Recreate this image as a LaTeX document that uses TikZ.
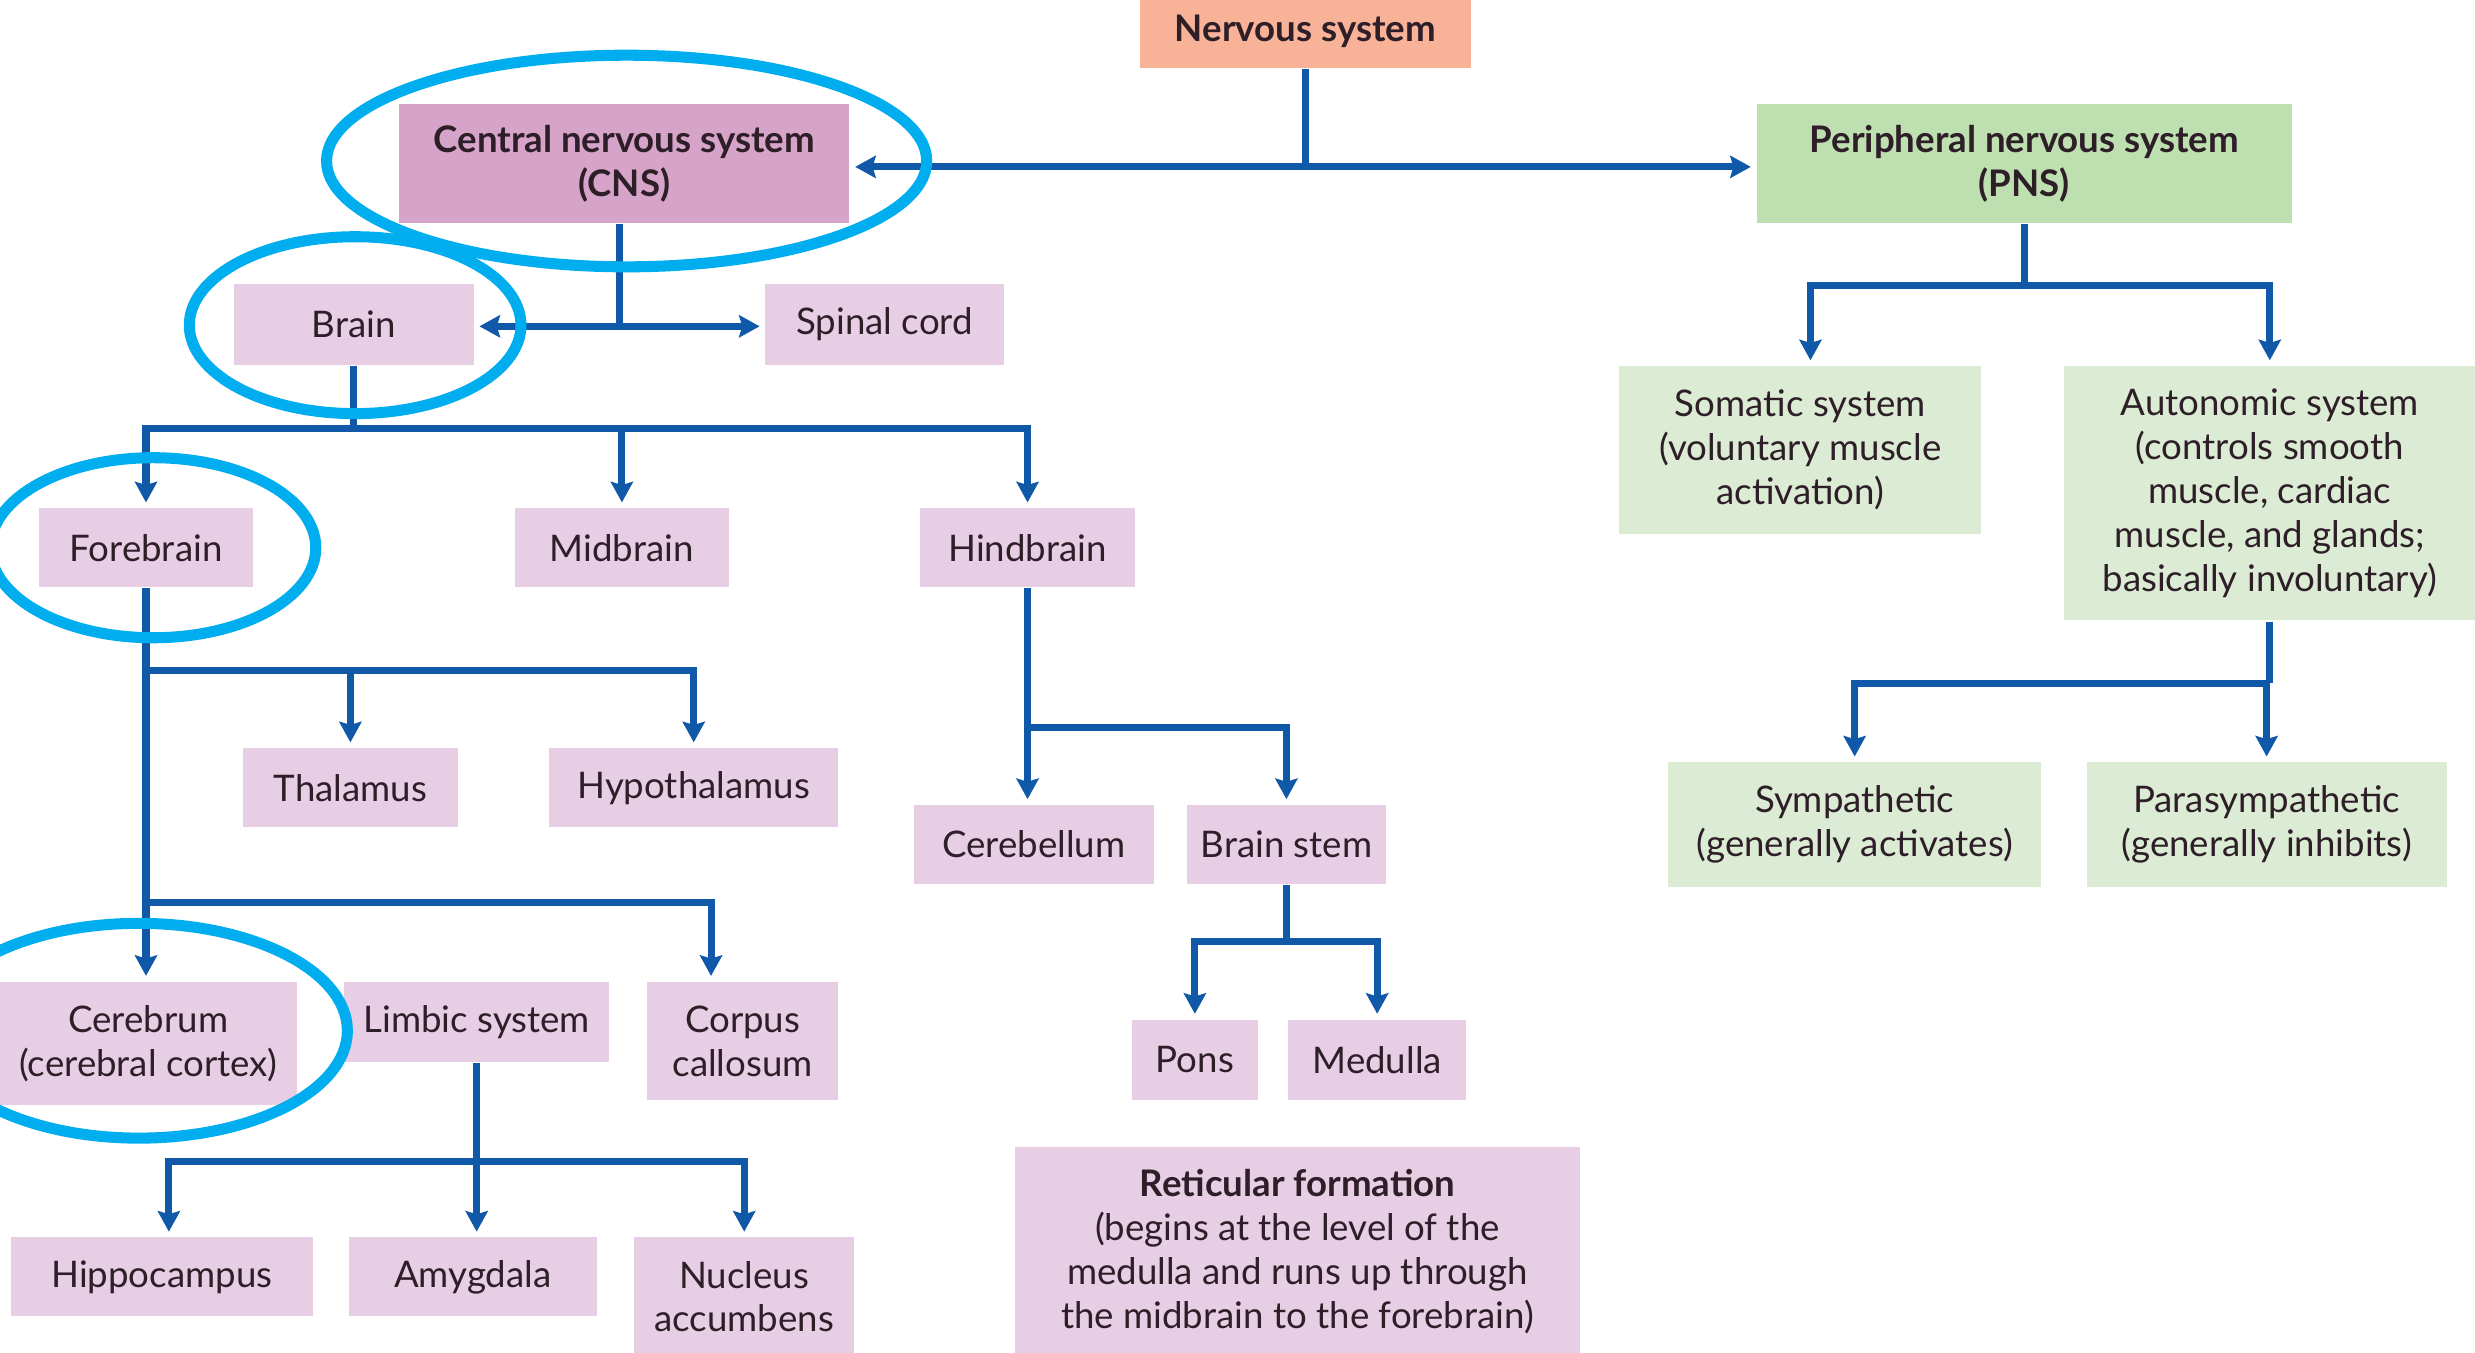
\documentclass[tikz,border=0pt]{standalone}
\usepackage{fontspec}
\setmainfont{Lato}
\usetikzlibrary{arrows.meta}

\definecolor{nsfill}{RGB}{247,178,152}
\definecolor{cnsfill}{RGB}{214,164,200}
\definecolor{pnsfill}{RGB}{190,224,176}
\definecolor{pinkfill}{RGB}{232,206,228}
\definecolor{greenfill}{RGB}{220,236,212}
\definecolor{linkblue}{RGB}{16,88,168}
\definecolor{ringblue}{RGB}{0,174,239}
\definecolor{txt}{RGB}{45,30,40}

\tikzset{
  box/.style={inner sep=0pt,align=center,text=txt,font=\fontsize{6.6}{7.9}\selectfont},
  pinkbox/.style={box,fill=pinkfill},
  greenbox/.style={box,fill=greenfill},
  link/.style={linkblue,line width=0.045cm},
  arr/.style={link,-{Stealth[length=0.13cm,width=0.14cm,inset=0.02cm]},shorten >=0.03cm},
  ring/.style={ringblue,line width=0.07cm}
}

\begin{document}
\begin{tikzpicture}[x=0.01cm,y=-0.01cm]
\useasboundingbox (0,0) rectangle (1568,857);
\fill[white] (0,0) rectangle (1568,857);

% top level
\node[box,fill=nsfill,minimum width=2.10cm,minimum height=0.46cm] (ns) at (827,20) {\bfseries Nervous system};
\node[box,fill=cnsfill,minimum width=2.85cm,minimum height=0.75cm] (cns) at (395.5,103.5) {\bfseries Central nervous system\\\bfseries(CNS)};
\node[box,fill=pnsfill,minimum width=3.39cm,minimum height=0.75cm] (pns) at (1282.5,103.5) {\bfseries Peripheral nervous system\\\bfseries(PNS)};

% central side
\node[pinkbox,minimum width=1.52cm,minimum height=0.51cm] (brain) at (224,205.5) {Brain};
\node[pinkbox,minimum width=1.51cm,minimum height=0.51cm] (spinal) at (560.5,205.5) {Spinal cord};
\node[pinkbox,minimum width=1.35cm,minimum height=0.50cm] (fore) at (92.5,347) {Forebrain};
\node[pinkbox,minimum width=1.36cm,minimum height=0.50cm] (mid) at (394,347) {Midbrain};
\node[pinkbox,minimum width=1.36cm,minimum height=0.50cm] (hind) at (651,347) {Hindbrain};
\node[pinkbox,minimum width=1.36cm,minimum height=0.50cm] (thal) at (222,499) {Thalamus};
\node[pinkbox,minimum width=1.83cm,minimum height=0.50cm] (hypo) at (439.5,499) {Hypothalamus};
\node[pinkbox,minimum width=1.52cm,minimum height=0.50cm] (cbl) at (655,535) {Cerebellum};
\node[pinkbox,minimum width=1.26cm,minimum height=0.50cm] (stem) at (815,535) {Brain stem};
\node[pinkbox,minimum width=1.88cm,minimum height=0.78cm] (cer) at (94,661) {Cerebrum\\(cerebral cortex)};
\node[pinkbox,minimum width=1.68cm,minimum height=0.51cm] (limbic) at (302,647.5) {Limbic system};
\node[pinkbox,minimum width=1.21cm,minimum height=0.75cm] (corpus) at (470.5,659.5) {Corpus\\callosum};
\node[pinkbox,minimum width=1.91cm,minimum height=0.50cm] (hippo) at (102.5,809) {Hippocampus};
\node[pinkbox,minimum width=1.57cm,minimum height=0.50cm] (amyg) at (299.5,809) {Amygdala};
\node[pinkbox,minimum width=1.39cm,minimum height=0.75cm] (nucleus) at (471.5,821.5) {Nucleus\\accumbens};
\node[pinkbox,minimum width=0.80cm,minimum height=0.51cm] (pons) at (757,671.5) {Pons};
\node[pinkbox,minimum width=1.13cm,minimum height=0.51cm] (medulla) at (872.5,671.5) {Medulla};
\node[pinkbox,minimum width=3.58cm,minimum height=1.32cm] (retic) at (822,793) {\bfseries Reticular formation\\(begins at the level of the\\medulla and runs up through\\the midbrain to the forebrain)};

% peripheral side
\node[greenbox,minimum width=2.29cm,minimum height=1.06cm] (somatic) at (1140.5,285) {Somatic system\\(voluntary muscle\\activation)};
\node[greenbox,minimum width=2.60cm,minimum height=1.61cm] (auto) at (1438,312.5) {Autonomic system\\(controls smooth\\muscle, cardiac\\muscle, and glands;\\basically involuntary)};
\node[greenbox,minimum width=2.36cm,minimum height=0.79cm] (symp) at (1175,522.5) {Sympathetic\\(generally activates)};
\node[greenbox,minimum width=2.28cm,minimum height=0.79cm] (para) at (1436,522.5) {Parasympathetic\\(generally inhibits)};

% connectors
\draw[link] (ns.south) -- ++(0,62) coordinate (jn);
\draw[arr] (jn) -- (jn -| cns.east);
\draw[arr] (jn) -- (jn -| pns.west);

\draw[link] ([xshift=-0.03cm]cns.south) -- ++(0,65) coordinate (jc);
\draw[arr] (jc) -- (jc -| brain.east);
\draw[arr] (jc) -- (jc -| spinal.west);

\draw[link] (brain.south) -- ++(0,40) coordinate (jb);
\draw[arr] (jb) -| (fore.north);
\draw[arr] (jb) -| (mid.north);
\draw[arr] (jb) -| (hind.north);

\draw[arr] (fore.south) -- (fore.south |- cer.north);
\path (fore.south) ++(0,52) coordinate (jf1) ++(0,147) coordinate (jf2);
\draw[arr] (jf1) -| (thal.north);
\draw[arr] (jf1) -| (hypo.north);
\draw[arr] (jf2) -| ([xshift=-0.2cm]corpus.north);

\draw[arr] (limbic.south) -- (limbic.south |- amyg.north);
\path (limbic.south) ++(0,62) coordinate (jl);
\draw[arr] (jl) -| ([xshift=0.045cm]hippo.north);
\draw[arr] (jl) -| (nucleus.north);

\draw[arr] (hind.south) -- (hind.south |- cbl.north);
\path (hind.south) ++(0,88) coordinate (jh);
\draw[arr] (jh) -| (stem.north);

\draw[link] (stem.south) -- ++(0,36) coordinate (js);
\draw[arr] (js) -| (pons.north);
\draw[arr] (js) -| (medulla.north);

\draw[link] (pns.south) -- ++(0,39) coordinate (jp);
\draw[arr] (jp) -| ([xshift=0.065cm]somatic.north);
\draw[arr] (jp) -| (auto.north);

\draw[link] (auto.south) -- ++(0,39) coordinate (ja);
\draw[arr] (ja) -| (symp.north);
\draw[arr] (ja) -| (para.north);

% highlight rings
\draw[ring] (397,102) ellipse (1.90cm and 0.67cm);
\draw[ring] (225,206) ellipse (1.05cm and 0.56cm);
\draw[ring] (97,347) ellipse (1.03cm and 0.57cm);
\draw[ring] (88,653) ellipse (1.32cm and 0.68cm);
\end{tikzpicture}
\end{document}
